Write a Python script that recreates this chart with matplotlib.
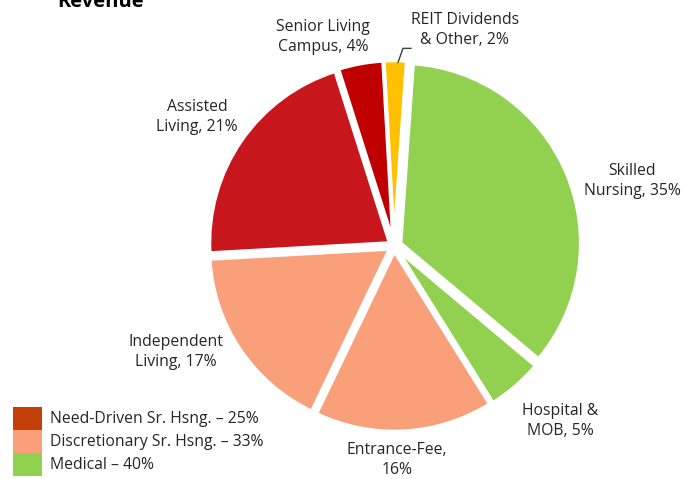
import matplotlib.pyplot as plt
import numpy as np
from matplotlib.patches import Rectangle

plt.rcParams['font.family'] = ['Open Sans', 'DejaVu Sans']

# slices, clockwise from (almost) 12 o'clock
segments = ["Skilled\nNursing, 35%", "Hospital &\nMOB, 5%", "Entrance-Fee,\n16%",
            "Independent\nLiving, 17%", "Assisted\nLiving, 21%",
            "Senior Living\nCampus, 4%", "REIT Dividends\n& Other, 2%"]
shares = [35, 5, 16, 17, 21, 4, 2]
colors = ["#92D050", "#92D050", "#F9A07A", "#F9A07A", "#C8161D", "#C00000", "#FFC000"]

groups = ["Need-Driven Sr. Hsng. \u2013 25%", "Discretionary Sr. Hsng. \u2013 33%", "Medical \u2013 40%"]
group_colors = ["#C3400B", "#F9A07A", "#92D050"]

# label placement (data units, radius = 1)
label_xy = [(1.322, 0.361), (0.922, -0.972), (0.017, -1.189), (-1.211, -0.589),
            (-1.094, 0.717), (-0.394, 1.161), (0.394, 1.200)]

W, H = 698, 479
fig = plt.figure(figsize=(W / 100, H / 100), dpi=100)
ax = fig.add_axes([0, 0, 1, 1])
r_px = 180
cx, cy = 394, 246

explode = [0.04, 0.03, 0.03, 0.03, 0.03, 0.03, 0.03]
wedges, _ = ax.pie(shares, colors=colors, startangle=86, counterclock=False,
                   explode=explode, radius=1.0,
                   wedgeprops=dict(edgecolor='white', linewidth=2.5))
ax.set_xlim(-cx / r_px, (W - cx) / r_px)
ax.set_ylim(-(H - cy) / r_px, cy / r_px)
ax.set_aspect('equal')
ax.axis('off')

for lab, (x, y) in zip(segments, label_xy):
    ax.text(x, y, lab, ha='center', va='center', fontsize=11.3, color='#262626',
            linespacing=1.3)

# leader line for the small REIT slice
w = wedges[-1]
mid = np.deg2rad((w.theta1 + w.theta2) / 2)
x0 = (1.0 + explode[-1]) * np.cos(mid) + 0.015
y0 = (1.0 + explode[-1]) * np.sin(mid) - 0.01
ax.plot([x0, x0 + 0.028, x0 + 0.072], [y0, y0 + 0.078, y0 + 0.078], color='#404040', lw=1)

fig.text(57 / W, 1 - 7 / H, "Revenue", fontsize=14.5, fontweight='bold',
         va='baseline', ha='left', color='black')

# legend swatches, stacked without gaps
for i, (g, c) in enumerate(zip(groups, group_colors)):
    top = 407 + 23 * i
    fig.patches.append(Rectangle((13 / W, 1 - (top + 23) / H), 29 / W, 23 / H,
                                 transform=fig.transFigure, facecolor=c, edgecolor='none'))
    fig.text(50 / W, 1 - (top + 12) / H, g, fontsize=11.3, color='#262626',
             va='center', ha='left')

fig.savefig("out.png", dpi=100)
